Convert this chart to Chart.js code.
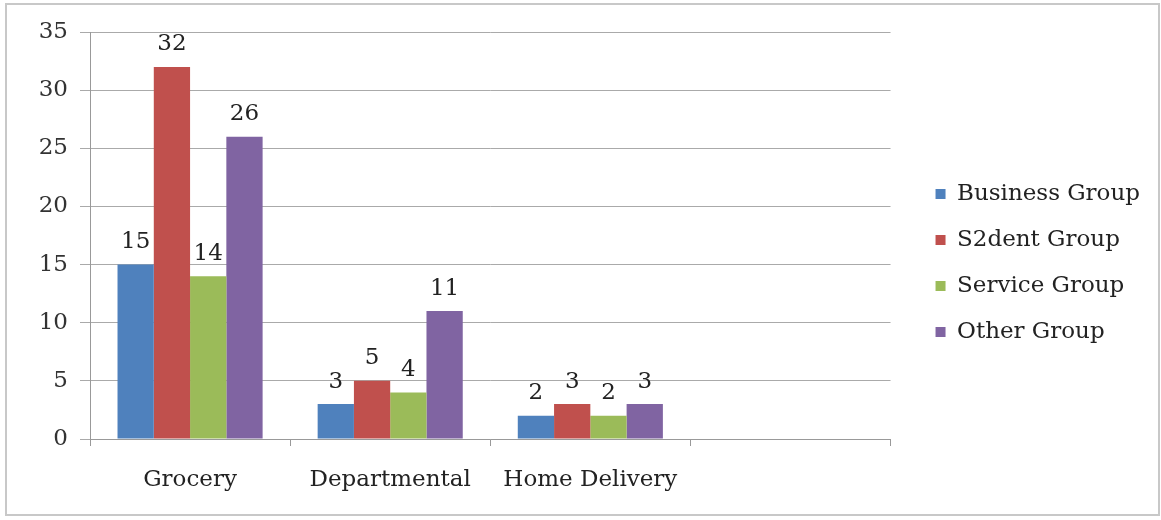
<!DOCTYPE html>
<html>
<head>
<meta charset="utf-8">
<script src="https://cdn.jsdelivr.net/npm/chart.js@4/dist/chart.umd.min.js"></script>
<style>
  html, body { margin: 0; padding: 0; background: #fff; }
  #frame {
    position: absolute; left: 5px; top: 3px;
    width: 1151px; height: 509px;
    border: 2px solid #c8c8c8;
  }
  #frame canvas { display: block; }
</style>
</head>
<body>
<div id="frame"><canvas id="myChartBar" width="1151" height="509"></canvas></div>
<script>
// store types along the x axis (last slot is left empty)
const categories = ['Grocery', 'Departmental', 'Home Delivery', ''];

// respondents per group
const businessGroup = [15, 3, 2, null];
const studentGroup  = [32, 5, 3, null];
const serviceGroup  = [14, 4, 2, null];
const otherGroup    = [26, 11, 3, null];

const yTicks = [0, 5, 10, 15, 20, 25, 30, 35];

const serif = "'DejaVu Serif', 'Liberation Serif', serif";

// writes each bar's value just above it
const barValues = {
  id: 'barValues',
  afterDatasetsDraw(chart) {
    const ctx = chart.ctx;
    ctx.save();
    ctx.font = '23px ' + serif;
    ctx.fillStyle = '#222';
    ctx.textAlign = 'center';
    ctx.textBaseline = 'bottom';
    chart.data.datasets.forEach((ds, i) => {
      chart.getDatasetMeta(i).data.forEach((bar, j) => {
        if (ds.data[j] == null) return;
        ctx.fillText(ds.data[j], bar.x, bar.y - 11);
      });
    });
    ctx.restore();
  }
};

const ctxBar = document.getElementById('myChartBar').getContext('2d');
const myChartBar = new Chart(ctxBar, {
  type: 'bar',
  data: {
    labels: categories,
    datasets: [
      { label: 'Business Group', data: businessGroup, backgroundColor: '#4F81BD' },
      { label: 'S2dent Group',   data: studentGroup,  backgroundColor: '#C0504D' },
      { label: 'Service Group',  data: serviceGroup,  backgroundColor: '#9BBB59' },
      { label: 'Other Group',    data: otherGroup,    backgroundColor: '#8064A2' }
    ]
  },
  options: {
    responsive: false,
    animation: false,
    datasets: { bar: { categoryPercentage: 0.725, barPercentage: 1 } },
    layout: { padding: { left: 0, top: 27, right: 8, bottom: 20 } },
    plugins: {
      tooltip: { enabled: false },
      legend: {
        position: 'right',
        maxWidth: 280,
        labels: {
          font: { family: serif, size: 23 },
          color: '#222',
          boxWidth: 10,
          boxHeight: 10,
          padding: 23
        }
      }
    },
    scales: {
      x: {
        offset: true,
        grid: { offset: true, drawOnChartArea: false, color: '#999', tickLength: 7 },
        border: { color: '#999' },
        ticks: { font: { family: serif, size: 23 }, color: '#222', padding: 20 },
        afterFit(axis) { axis.height = 55; }
      },
      y: {
        min: 0,
        max: 35,
        afterBuildTicks(axis) { axis.ticks = yTicks.map(v => ({ value: v })); },
        grid: { color: '#aaa', tickLength: 10 },
        border: { color: '#999' },
        ticks: { font: { family: serif, size: 23 }, color: '#333', padding: 12 },
        afterFit(axis) { axis.width = 83; }
      },
      // empty strip between the plot and the legend
      gap: {
        type: 'linear',
        position: 'right',
        grid: { display: false },
        border: { display: false },
        ticks: { display: false },
        afterFit(axis) { axis.width = 22; }
      }
    }
  },
  plugins: [barValues]
});
</script>
</body>
</html>
